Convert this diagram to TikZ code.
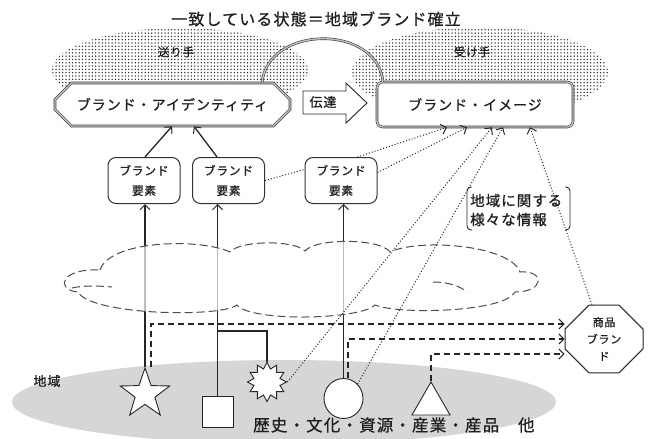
\documentclass[tikz,border=0pt]{standalone}
\usepackage{fontspec}
\newfontfamily\jpf[LetterSpace=7,FakeBold=0.8]{Noto Sans CJK JP}
\usetikzlibrary{arrows.meta,shapes.misc,shapes.geometric,patterns,calc}
\pgfdeclarepatternformonly{halftone}{\pgfqpoint{-1pt}{-1pt}}{\pgfqpoint{1pt}{1pt}}{\pgfqpoint{3.3pt}{3.3pt}}{\pgfpathcircle{\pgfpointorigin}{0.75pt}\pgfusepath{fill}}
\newcommand\jsz[2]{\jpf\fontsize{#1}{#2}\selectfont}
\begin{document}
\begin{tikzpicture}[x=1pt,y=-1pt,
 every node/.style={inner sep=0pt, text=black!88},
 barb/.style={-{Straight Barb[length=5pt,width=10pt,line width=1pt]}},
 dbl/.style={draw=black!75, line width=0.6pt, double=gray!50, double distance=1.4pt},
 elem/.style={draw=black!80, line width=1pt, rounded corners=8pt, fill=white, minimum width=72pt, minimum height=46pt, align=center, font=\jsz{11.7}{20}},
 solidln/.style={line width=1.3pt, black!85},
 dashln/.style={line width=1.1pt, dash pattern=on 6pt off 4pt, black!85},
 dotln/.style={line width=1pt, dotted, black!85},
 shp/.style={draw=black!85, line width=0.9pt, fill=white, inner sep=0pt}
]
\clip (0,0) rectangle (648,439);
\fill[white] (0,0) rectangle (648,439);

% region and halo ellipses
\fill[black!16] (284,402) ellipse [x radius=272pt, y radius=42pt];
\fill[pattern=halftone, pattern color=black!85] (180,70) ellipse [x radius=128pt, y radius=42pt];
\fill[pattern=halftone, pattern color=black!85] (480,72) ellipse [x radius=128pt, y radius=45pt];

% texts at top
\node[font=\jsz{16}{16}] (title) at (316,19) {一致している状態＝地域ブランド確立};
\node[font=\jsz{11.5}{11.5}] (send) at (176,52) {送り手};
\node[font=\jsz{11.5}{11.5}] (recv) at (472,52) {受け手};

% main boxes
\node[chamfered rectangle, chamfered rectangle xsep=17pt, chamfered rectangle ysep=10pt, dbl, fill=white, minimum width=235pt, minimum height=43pt, font=\jsz{14}{14}] (ident) at (172.5,104.5) {ブランド・アイデンティティ};
\node[dbl, rounded corners=6pt, fill=white, minimum width=196pt, minimum height=45pt, font=\jsz{14}{14}] (image) at (475,104.5) {ブランド・イメージ};

% arch
\draw[dbl] ([xshift=89.5pt]ident.north) .. controls +(6,-58) and +(-6,-58) .. ([xshift=-92pt]image.north);

% transfer arrow
\draw[line width=0.9pt, draw=black!85, fill=white] (303,91) -- (346,91) -- (346,83) -- (367,103) -- (346,123) -- (346,114) -- (303,114) -- cycle;
\node[font=\jsz{13}{13}] (trans) at (323,102) {伝達};

% brand elements
\node[elem] (b1) at (144,180.5) {ブランド\\要素};
\node[elem] (b2) at (228.5,180.5) {ブランド\\要素};
\node[elem] (b3) at (341,180.5) {ブランド\\要素};

% product brand
\node[chamfered rectangle, chamfered rectangle xsep=12pt, chamfered rectangle ysep=12pt, draw=black!85, line width=1pt, fill=white, minimum width=78pt, minimum height=62pt, align=center, font=\jsz{11}{17}] (prod) at (604,339) {商品\\ブラン\\ド};

% region shapes
\node[shp, star, star points=5, star point ratio=2.5, minimum size=52pt] (star) at (145,394) {};
\node[shp, rectangle, minimum size=31pt] (sq) at (217.5,412) {};
\node[shp, star, star points=12, star point ratio=1.45, minimum size=39pt] (burst) at (267,382) {};
\node[shp, ellipse, minimum width=39pt, minimum height=40pt] (circ) at (343.5,398.5) {};
\node[shp, regular polygon, regular polygon sides=3, minimum size=44pt] (tri) at (431,404) {};

% solid connectors
\coordinate (lvl) at (0,331);
\draw[solidln, barb] (star.north) -- (star.north |- b1.south);
\draw[solidln, barb] (sq.north) -- (sq.north |- b2.south);
\draw[solidln] (sq.north |- lvl) -| (burst.north);
\draw[solidln, barb] (circ.north) -- (circ.north |- b3.south);
\draw[solidln, barb] ([xshift=1pt]b1.north) -- ([xshift=-0.5pt]ident.south);
\draw[solidln, barb] ([xshift=-11.5pt]b2.north) -- ([xshift=21.5pt]ident.south);

% cloud (information haze)
\path[fill=white, fill opacity=0.7] (100,270)
  .. controls (110,240) and (200,238) .. (230,252)
  .. controls (240,240) and (295,240) .. (305,251)
  .. controls (315,238) and (380,238) .. (390,252)
  .. controls (420,238) and (510,245) .. (520,272)
  .. controls (545,270) and (545,292) .. (515,292)
  .. controls (505,312) and (400,315) .. (375,305)
  .. controls (360,320) and (250,322) .. (237,305)
  .. controls (220,318) and (90,315) .. (78,292)
  .. controls (55,290) and (60,268) .. (100,270) -- cycle;
\begin{scope}[draw=black!70, line width=1pt, dash pattern=on 8pt off 4pt]
\draw (100,270)
  .. controls (110,240) and (200,238) .. (230,252)
  .. controls (240,240) and (295,240) .. (305,251)
  .. controls (315,238) and (380,238) .. (390,252)
  .. controls (420,238) and (510,245) .. (520,272)
  .. controls (545,270) and (545,292) .. (515,292)
  .. controls (505,312) and (400,315) .. (375,305)
  .. controls (360,320) and (250,322) .. (237,305)
  .. controls (220,318) and (90,315) .. (78,292)
  .. controls (55,290) and (60,268) .. (100,270);
\draw (72,288) .. controls (85,285) and (100,286) .. (112,287);
\draw (433,282) .. controls (448,282) and (460,286) .. (467,292);
\end{scope}

% dashed connectors to product brand
\coordinate (d1) at ([xshift=6pt]star.north);
\coordinate (d2) at ([xshift=4.5pt]circ.north);
\coordinate (d3) at (tri.north);
\draw[dashln, barb] (d1) |- ([yshift=15pt]prod.west);
\draw[dashln, barb] (d2) |- (prod.west);
\draw[dashln, barb] (d3) |- ([yshift=-15pt]prod.west);

% dotted connectors
\draw[dotln] (b2.east) -- ([yshift=11pt]b3.west);
\draw[dotln, barb] ([xshift=-20pt]b3.north east) -- ([xshift=-28pt]image.south);
\draw[dotln, barb] ([yshift=8pt]b3.east) -- ([xshift=-8pt]image.south);
\draw[dotln, barb] (burst.east) -- ([xshift=17pt]image.south);
\draw[dotln, barb] (circ.north east) -- ([xshift=28pt]image.south);
\draw[dotln, barb] ([xshift=-12pt]prod.north) -- ([xshift=55pt]image.south);

% info bracket
\draw[line width=0.9pt, black!85, rounded corners=4pt] (472,187) -- (467,187) -- (467,230) -- (472,230);
\draw[line width=0.9pt, black!85, rounded corners=4pt] (565,187) -- (570,187) -- (570,230) -- (565,230);
\node[font=\jsz{14.5}{19}, align=left, anchor=west] (info) at (470,210) {地域に関する\\様々な情報};

% labels
\node[font=\jsz{13}{13}] (region) at (47,381) {地域};
\node[font=\jsz{16.5}{16.5}, anchor=west] (list) at (253,425) {歴史・文化・資源・産業・産品　他};
\end{tikzpicture}
\end{document}
